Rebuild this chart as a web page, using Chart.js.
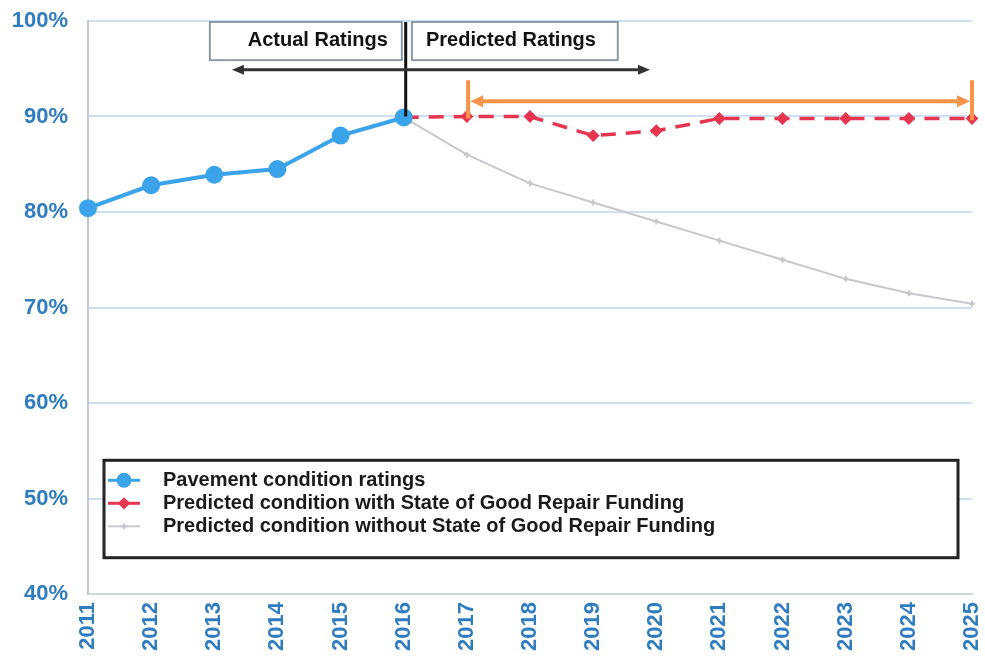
<!DOCTYPE html>
<html>
<head>
<meta charset="utf-8">
<script src="https://cdn.jsdelivr.net/npm/chart.js@4.4.1/dist/chart.umd.min.js"></script>
<style>
    html, body { margin: 0; padding: 0; background: #fff; }
    #wrap { width: 985px; height: 666px; position: relative; }
</style>
</head>
<body>
<div id="wrap"><canvas id="chart" width="985" height="666"></canvas></div>
<script>
// --- Data ---------------------------------------------------------------

const years = ['2011', '2012', '2013', '2014', '2015', '2016', '2017', '2018',
    '2019', '2020', '2021', '2022', '2023', '2024', '2025'];

const actualRatings = [80.4, 82.8, 83.9, 84.5, 88.0, 89.9,
    null, null, null, null, null, null, null, null, null];

const withFunding = [null, null, null, null, null, 89.9,
    90.0, 90.0, 88.0, 88.5, 89.8, 89.8, 89.8, 89.8, 89.8];

const withoutFunding = [null, null, null, null, null, 89.9,
    86.0, 83.0, 81.0, 79.0, 77.0, 75.0, 73.0, 71.5, 70.4];

const yTicks = [40, 50, 60, 70, 80, 90, 100];

const seriesNames = [
    'Pavement condition ratings',
    'Predicted condition with State of Good Repair Funding',
    'Predicted condition without State of Good Repair Funding',
];

// --- Colours / fonts ----------------------------------------------------

const BLUE = '#3aa3ea';
const RED = '#e8354f';
const GRAY = '#c9c7cc';
const LABEL = '#2f7cc0';
const ORANGE = '#f5944a';
const FONT = '"Liberation Sans", Arial, sans-serif';

// --- Annotations drawn over the plot ------------------------------------

const annotations = {
    id: 'annotations',
    afterDatasetsDraw(chart) {
        const { ctx, scales: { x, y } } = chart;
        ctx.save();

        // label boxes
        const boxes = [
            { x0: 1.93, x1: 4.97, text: 'Actual Ratings', align: 'right' },
            { x0: 5.13, x1: 8.39, text: 'Predicted Ratings', align: 'left' },
        ];
        const top = y.getPixelForValue(99.9);
        const bot = y.getPixelForValue(95.9);
        boxes.forEach((b) => {
            const l = x.getPixelForValue(b.x0), r = x.getPixelForValue(b.x1);
            ctx.fillStyle = '#fff';
            ctx.fillRect(l, top, r - l, bot - top);
            ctx.strokeStyle = '#8e9aa6';
            ctx.lineWidth = 2;
            ctx.strokeRect(l, top, r - l, bot - top);
            ctx.fillStyle = '#111';
            ctx.font = 'bold 20px ' + FONT;
            ctx.textBaseline = 'middle';
            ctx.textAlign = b.align;
            const tx = b.align === 'right' ? r - 14 : l + 14;
            ctx.fillText(b.text, tx, (top + bot) / 2 - 1);
        });

        // divider at 2016
        const xd = x.getPixelForValue(5) + 2;
        ctx.strokeStyle = '#111';
        ctx.lineWidth = 3;
        ctx.beginPath();
        ctx.moveTo(xd, top);
        ctx.lineTo(xd, y.getPixelForValue(90));
        ctx.stroke();

        // black double arrow
        const ya = y.getPixelForValue(94.9);
        const xl = x.getPixelForValue(2.28), xr = x.getPixelForValue(8.9);
        ctx.strokeStyle = '#333';
        ctx.fillStyle = '#333';
        ctx.lineWidth = 3;
        ctx.beginPath();
        ctx.moveTo(xl + 8, ya);
        ctx.lineTo(xr - 8, ya);
        ctx.stroke();
        arrowHead(ctx, xl, ya, -1, 12, 5);
        arrowHead(ctx, xr, ya, 1, 12, 5);

        // orange range arrow
        const yo = y.getPixelForValue(91.6);
        const ol = x.getPixelForValue(6.02), or = x.getPixelForValue(14);
        ctx.strokeStyle = ORANGE;
        ctx.fillStyle = ORANGE;
        ctx.lineWidth = 4;
        ctx.beginPath();
        ctx.moveTo(ol + 10, yo);
        ctx.lineTo(or - 10, yo);
        ctx.moveTo(ol, y.getPixelForValue(93.8));
        ctx.lineTo(ol, y.getPixelForValue(89.8));
        ctx.moveTo(or, y.getPixelForValue(93.8));
        ctx.lineTo(or, y.getPixelForValue(89.6));
        ctx.stroke();
        arrowHead(ctx, ol + 2, yo, -1, 13, 6);
        arrowHead(ctx, or - 2, yo, 1, 13, 6);

        ctx.restore();
    },
};

function arrowHead(ctx, tipX, tipY, dir, len, half) {
    ctx.beginPath();
    ctx.moveTo(tipX, tipY);
    ctx.lineTo(tipX - dir * len, tipY - half);
    ctx.lineTo(tipX - dir * len, tipY + half);
    ctx.closePath();
    ctx.fill();
}

// --- Boxed legend inside the plot ---------------------------------------

const boxLegend = {
    id: 'boxLegend',
    afterDraw(chart) {
        const { ctx, scales: { x, y } } = chart;
        const l = x.getPixelForValue(0) + 16;
        const r = x.getPixelForValue(14) - 14;
        const t = y.getPixelForValue(54.0);
        const b = y.getPixelForValue(43.8);
        ctx.save();
        ctx.fillStyle = '#fff';
        ctx.fillRect(l, t, r - l, b - t);
        ctx.strokeStyle = '#222';
        ctx.lineWidth = 3;
        ctx.strokeRect(l, t, r - l, b - t);

        const styles = [
            { color: BLUE, width: 3, point: 'circle', radius: 6 },
            { color: RED, width: 3, point: 'rectRot', radius: 4 },
            { color: GRAY, width: 2, point: 'cross', radius: 3 },
        ];
        ctx.font = 'bold 20px ' + FONT;
        ctx.textBaseline = 'middle';
        ctx.textAlign = 'left';
        seriesNames.forEach((name, i) => {
            const cy = t + 20 + i * 23;
            const s = styles[i];
            ctx.strokeStyle = s.color;
            ctx.lineWidth = s.width;
            ctx.beginPath();
            ctx.moveTo(l + 4, cy);
            ctx.lineTo(l + 36, cy);
            ctx.stroke();
            ctx.fillStyle = s.color;
            Chart.helpers.drawPoint(ctx, {
                pointStyle: s.point, radius: s.radius, borderWidth: 2, rotation: 0,
            }, l + 20, cy);
            ctx.fill();
            ctx.fillStyle = '#1a1a1a';
            ctx.fillText(name, l + 59, cy);
        });
        ctx.restore();
    },
};

// --- Chart --------------------------------------------------------------

new Chart(document.getElementById('chart'), {
    type: 'line',
    data: {
        labels: years,
        datasets: [
            {
                label: seriesNames[0],
                data: actualRatings,
                borderColor: BLUE,
                backgroundColor: BLUE,
                borderWidth: 4,
                pointRadius: 7,
                pointStyle: 'circle',
                order: 1,
            },
            {
                label: seriesNames[1],
                data: withFunding,
                borderColor: RED,
                backgroundColor: RED,
                borderWidth: 3.5,
                borderDash: [15, 10],
                pointRadius: 4,
                pointStyle: 'rectRot',
                order: 2,
            },
            {
                label: seriesNames[2],
                data: withoutFunding,
                borderColor: GRAY,
                backgroundColor: GRAY,
                borderWidth: 2,
                pointRadius: 3,
                pointStyle: 'cross',
                order: 3,
            },
        ],
    },
    options: {
        responsive: false,
        animation: false,
        layout: { padding: { top: 21, right: 13, left: 0, bottom: 0 } },
        plugins: {
            legend: { display: false },
            tooltip: { enabled: false },
        },
        scales: {
            x: {
                offset: false,
                grid: { display: false, drawTicks: true, tickLength: 6, tickColor: '#c8d8d0' },
                border: { color: '#c8dcd4', width: 2 },
                ticks: {
                    minRotation: 90,
                    maxRotation: 90,
                    color: LABEL,
                    padding: 2,
                    font: { family: FONT, size: 22, weight: 'bold' },
                },
                afterFit: (s) => {
                    s.height = 72;
                    s.paddingLeft = 0;
                    s.paddingRight = 0;
                },
            },
            y: {
                min: 40,
                max: 100,
                afterBuildTicks: (s) => { s.ticks = yTicks.map((v) => ({ value: v })); },
                grid: { color: '#cfe0f2', lineWidth: 2, drawTicks: false },
                border: { color: '#c4c8d4', width: 2 },
                ticks: {
                    color: LABEL,
                    padding: 20,
                    callback: (v) => v + '%',
                    font: { family: FONT, size: 22, weight: 'bold' },
                },
                afterFit: (s) => {
                    s.width = 88;
                    s.paddingTop = 0;
                    s.paddingBottom = 0;
                },
            },
        },
    },
    plugins: [annotations, boxLegend],
});
</script>
</body>
</html>
